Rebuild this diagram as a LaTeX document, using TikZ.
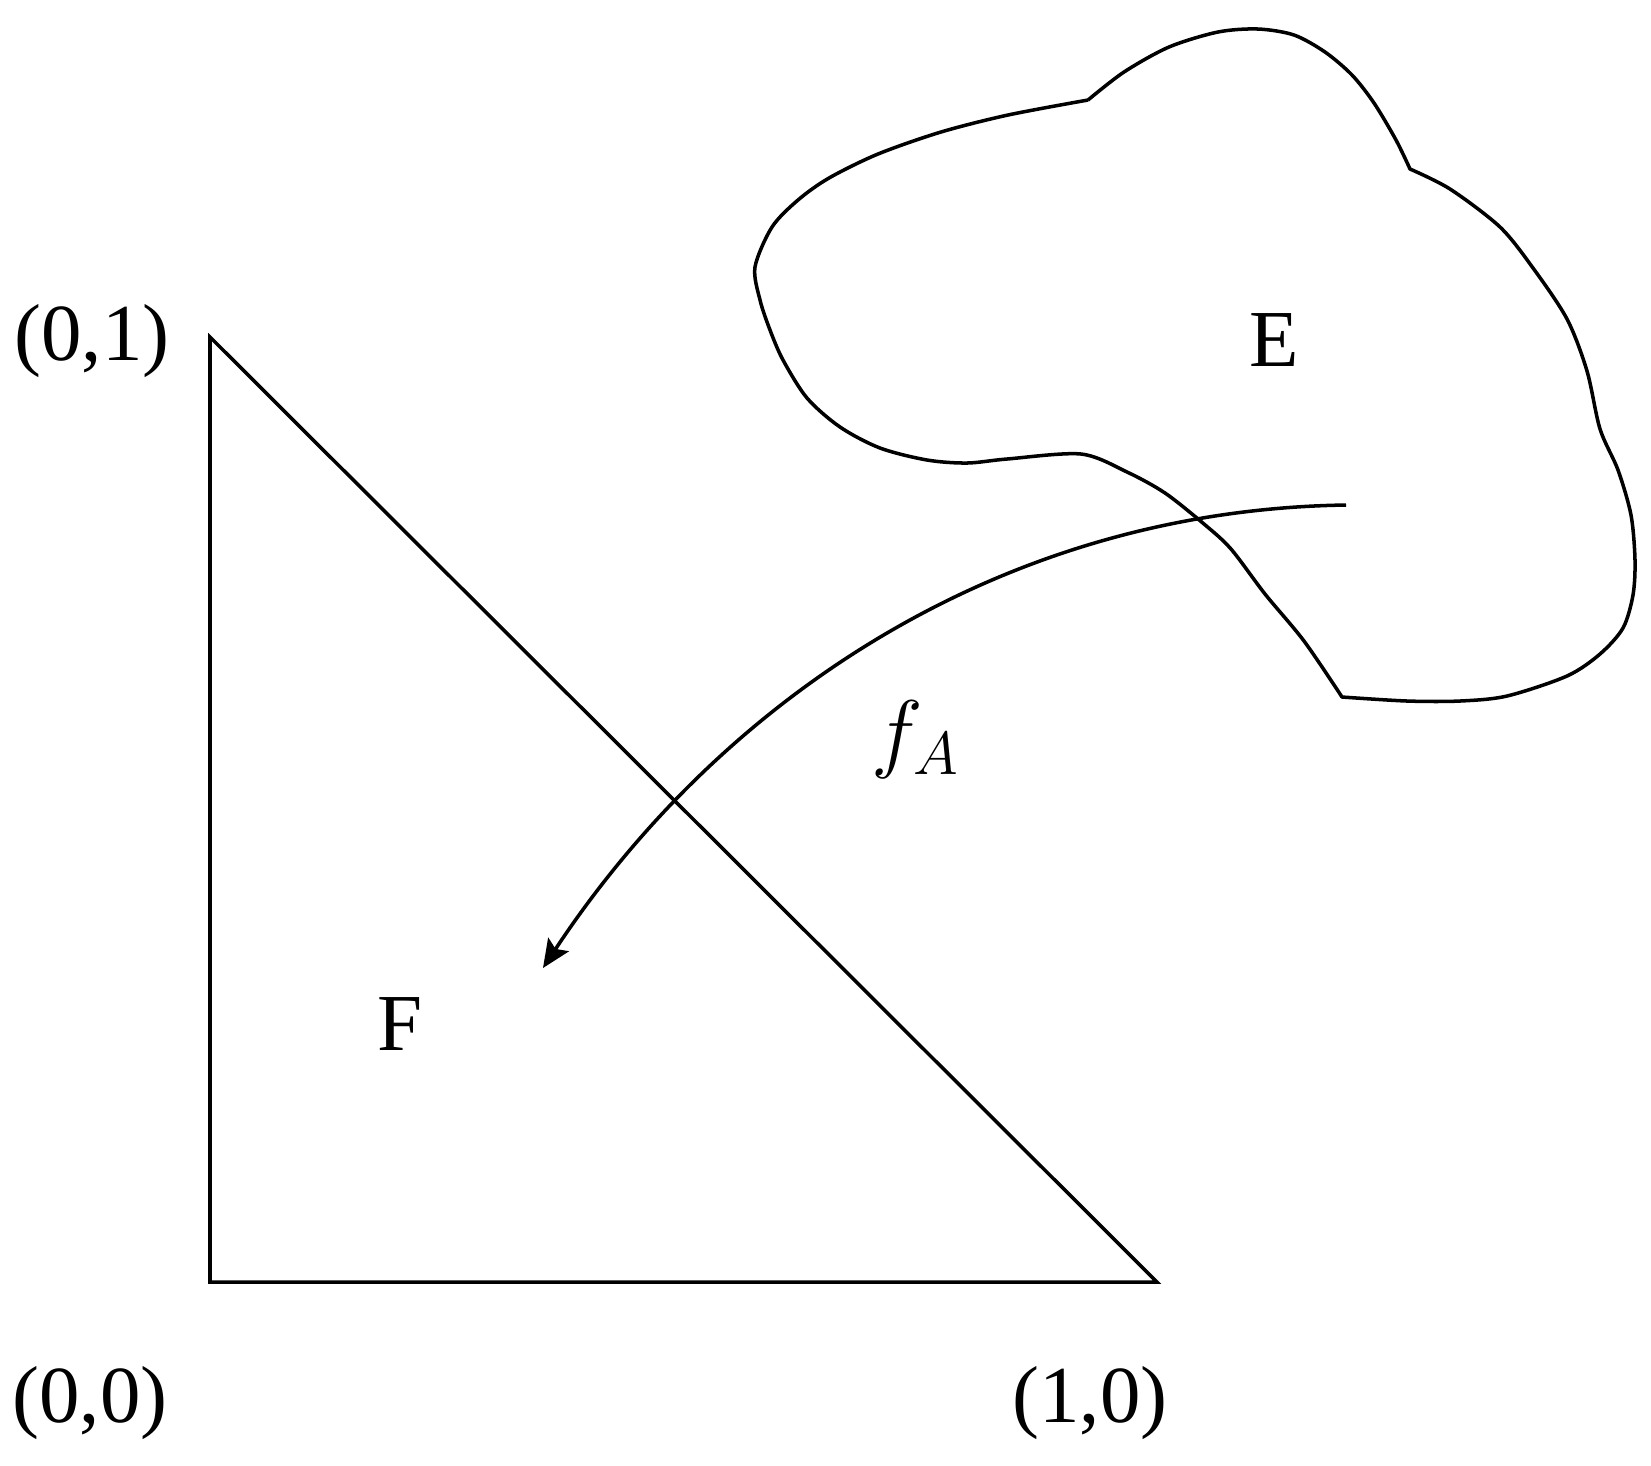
\documentclass[tikz,border=0pt]{standalone}
\usepackage{fontspec}
\setmainfont{Liberation Serif}
\usetikzlibrary{arrows.meta}

\begin{document}
\begin{tikzpicture}[x=0.01cm, y=-0.01cm, line width=1pt,
    lbl/.style={font=\fontsize{23}{28}\selectfont, inner sep=0pt, anchor=base}]
  \useasboundingbox (0,0) rectangle (1651,1465);

  % triangle F
  \coordinate (o) at (210,1282);
  \coordinate (a) at (210,337);
  \coordinate (b) at (1157,1282);
  \draw (a) -- (o) -- (b) -- cycle;

  \node[lbl] (p01) at (92,360) {(0,1)};
  \node[lbl] (p00) at (90,1422) {(0,0)};
  \node[lbl] (p10) at (1090,1422) {(1,0)};
  \node[lbl] (setF) at (400,1050) {F};

  % region E
  \draw[line join=round]
    plot[smooth, tension=0.5] coordinates {(1088,100) (1124,72) (1169,47) (1218,32)
      (1258,29) (1294,35) (1325,52) (1352,75) (1374,103) (1396,140) (1410,169)}
    -- plot[smooth, tension=0.5] coordinates {(1410,169) (1450,189) (1500,227)
      (1533,268) (1567,319) (1587,371) (1600,429) (1618,470) (1631,515) (1635,560)
      (1633,595) (1623,628) (1600,654) (1567,676) (1507,696) (1460,701) (1407,701)
      (1342,697)}
    -- plot[smooth, tension=0.5] coordinates {(1342,697) (1304,641) (1265,594)
      (1231,549) (1204,524) (1165,493) (1127,472) (1081,454) (1007,459) (967,463)
      (927,460) (880,448) (840,427) (807,398) (783,360) (770,330) (760,300)
      (755,267) (772,227) (798,200) (829,178) (878,154) (941,132) (1008,115)
      (1088,100)};

  \node[lbl] (setE) at (1274,366) {E};

  % the map f_A
  \coordinate (mapstart) at (1346,505);
  \coordinate (mapend) at (543,968);
  \draw[-{Stealth[length=8pt, width=7pt, inset=1.5pt]}]
    (mapstart) .. controls (1000,510) and (720,700) .. (mapend);
  \node[lbl] (fA) at (916,761) {$f_A$};
\end{tikzpicture}
\end{document}
